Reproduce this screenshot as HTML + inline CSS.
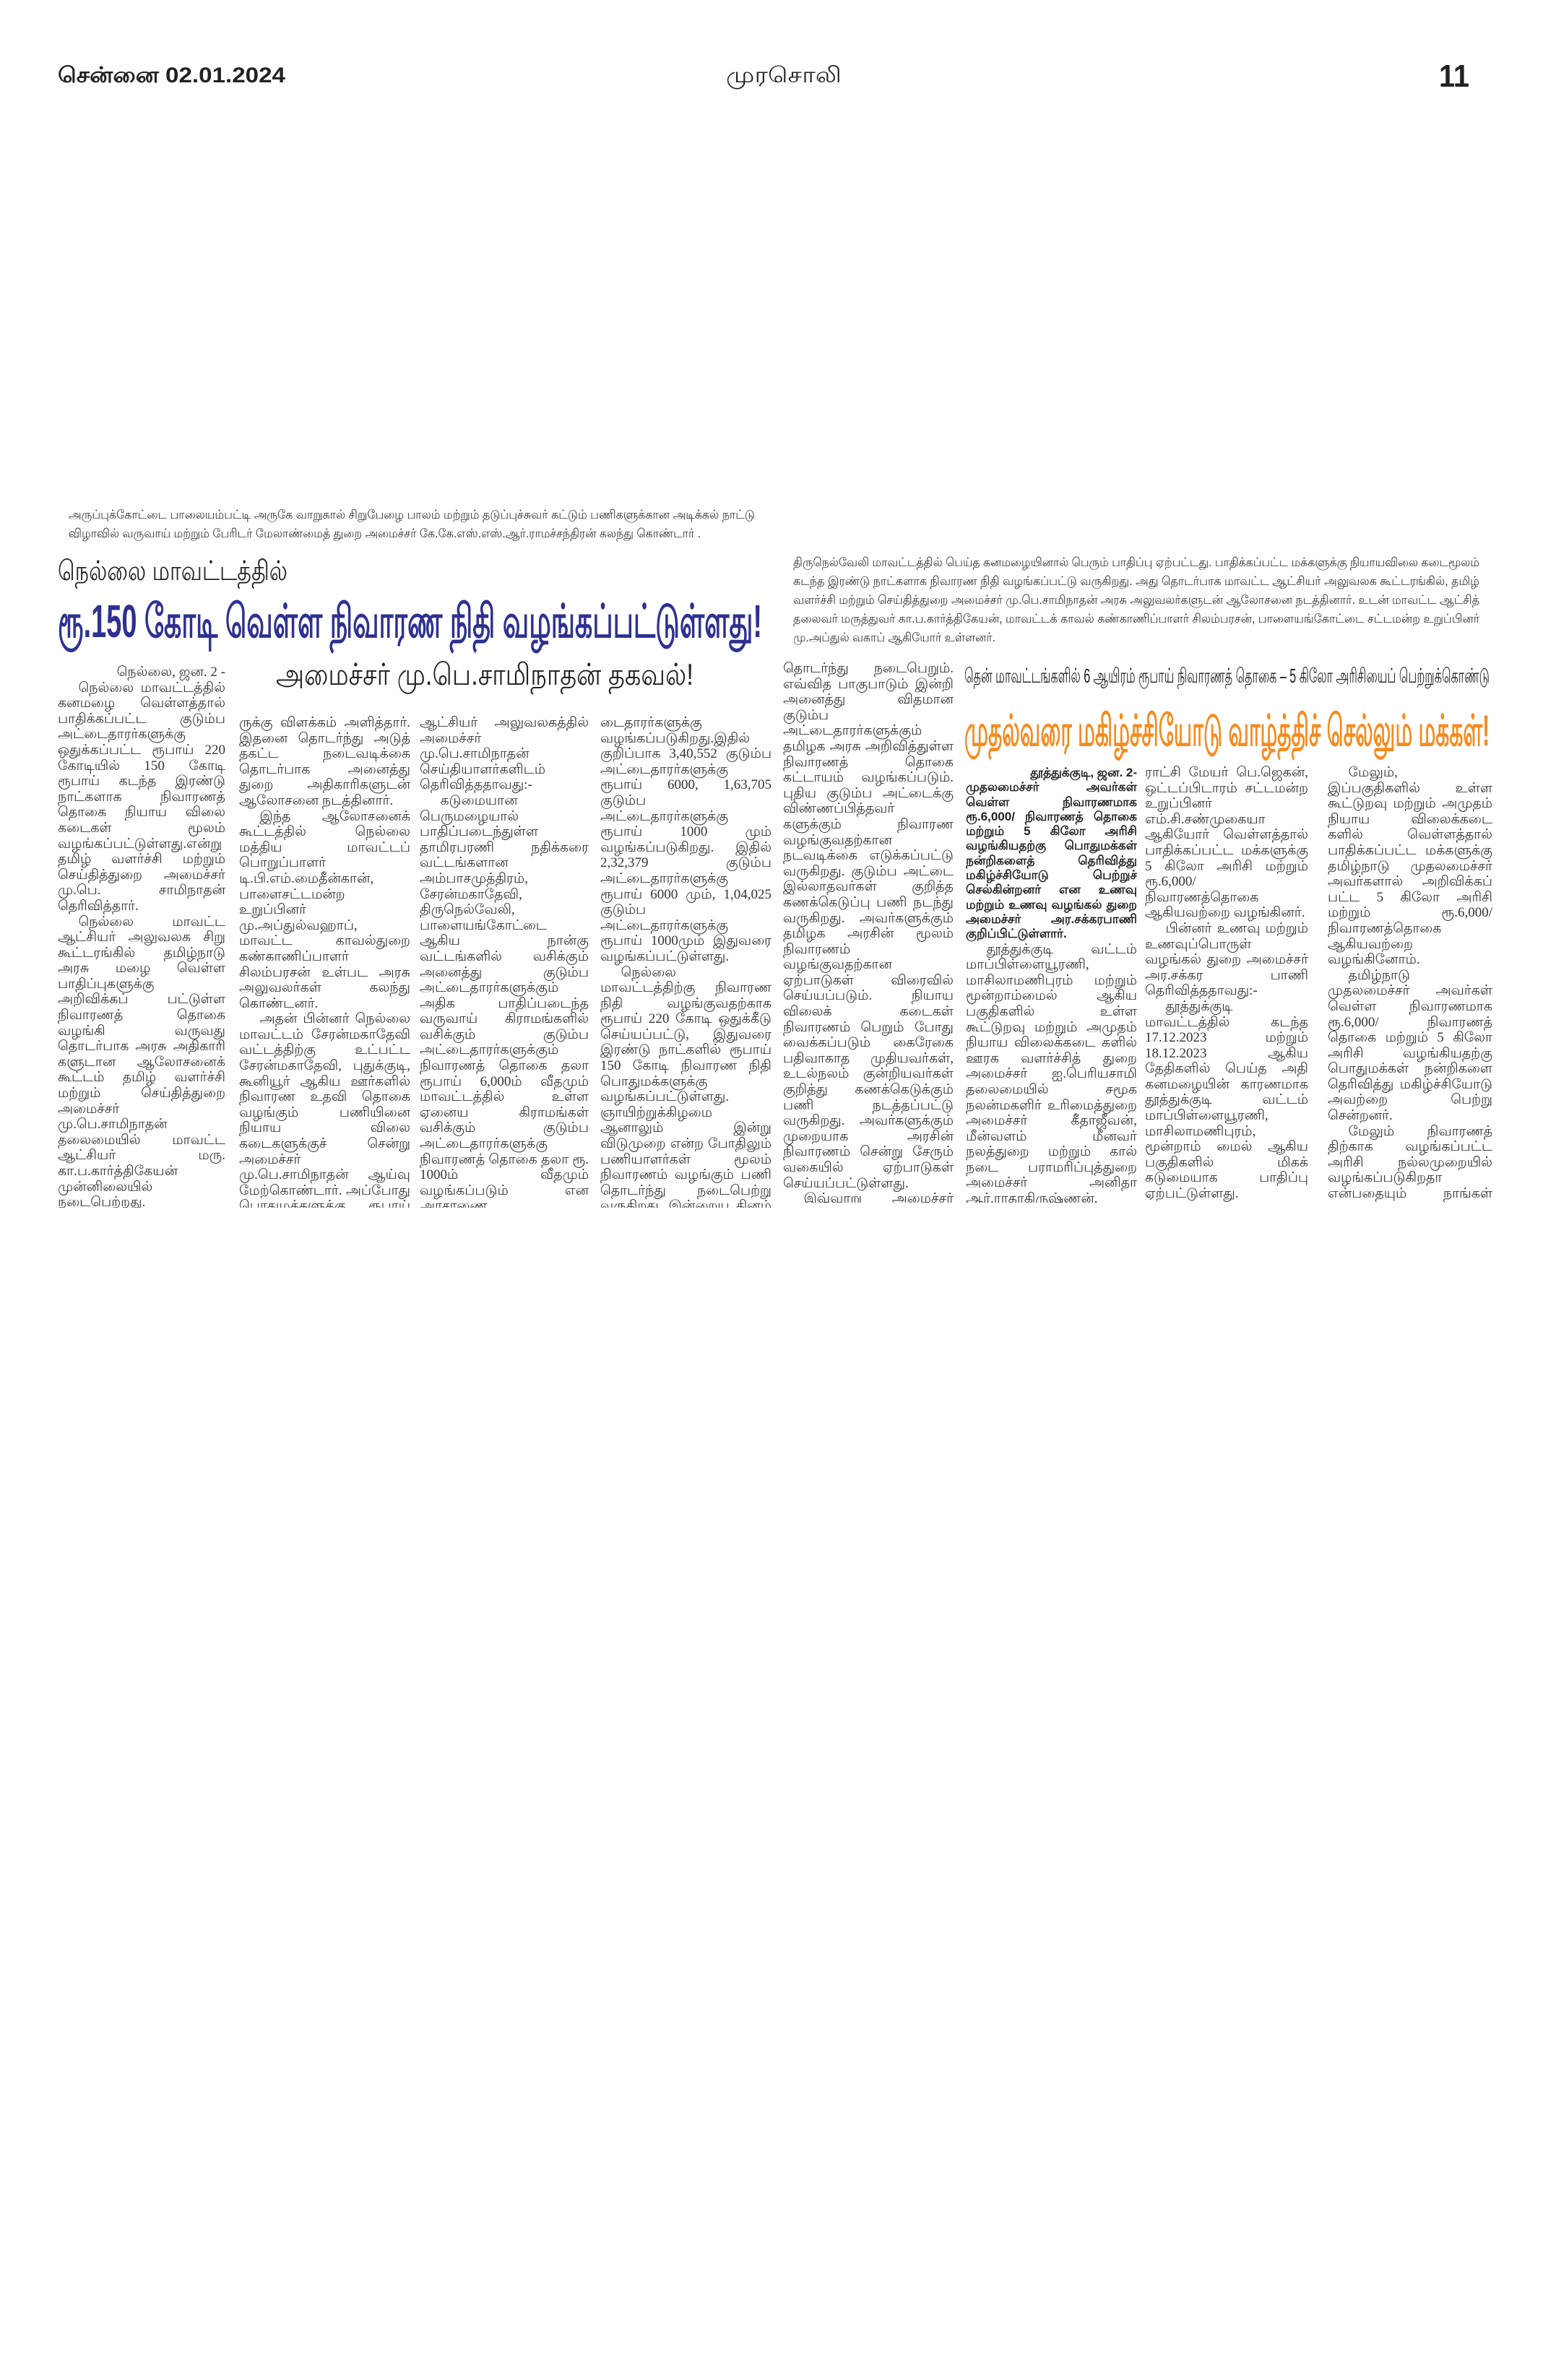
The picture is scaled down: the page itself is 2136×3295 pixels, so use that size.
<!DOCTYPE html>
<html><head><meta charset="utf-8">
<style>
body{margin:0;background:#fff;}
#p{position:relative;width:2136px;height:3295px;overflow:hidden;background:#fff;color:#222;font-family:"Liberation Sans","Noto Sans CJK JP",sans-serif;}
.col{position:absolute;font-family:"Liberation Serif","Noto Serif CJK SC",serif;font-size:19px;line-height:21.6px;text-align:justify;overflow:hidden;color:#333;}
.col p{margin:0;text-indent:1.5em;}
.b{font-family:"Liberation Sans",sans-serif;font-weight:bold;font-size:17px;line-height:20.3px;color:#222;}
svg{position:absolute;left:0;top:0;}
svg text{font-family:"Liberation Sans",sans-serif;}
</style></head><body><div id="p">

<svg width="2136" height="1100" viewBox="0 0 2136 1100">
<text x="80" y="114" font-size="30" font-weight="bold" fill="#222" textLength="315" lengthAdjust="spacingAndGlyphs">சென்னை 02.01.2024</text>
<text x="1005" y="114" font-size="30" fill="#222" textLength="160" lengthAdjust="spacingAndGlyphs">முரசொலி</text>
<text x="1992" y="120" font-size="44" font-weight="bold" fill="#222" textLength="42" lengthAdjust="spacingAndGlyphs">11</text>

<text x="95" y="718" font-size="17" fill="#333" textLength="950" lengthAdjust="spacingAndGlyphs">அருப்புக்கோட்டை பாலையம்பட்டி அருகே வாறுகால் சிறுபேழை பாலம் மற்றும் தடுப்புச்சுவர் கட்டும் பணிகளுக்கான அடிக்கல் நாட்டு</text>
<text x="95" y="744" font-size="17" fill="#333" textLength="875" lengthAdjust="spacingAndGlyphs">விழாவில் வருவாய் மற்றும் பேரிடர் மேலாண்மைத் துறை அமைச்சர் கே.கே.எஸ்.எஸ்.ஆர்.ராமச்சந்திரன் கலந்து கொண்டார் .</text>

<text x="80" y="803" font-size="38" fill="#222" textLength="318" lengthAdjust="spacingAndGlyphs">நெல்லை மாவட்டத்தில்</text>
<text x="80" y="882" font-size="64" font-weight="bold" fill="#2e3192" textLength="975" lengthAdjust="spacingAndGlyphs">ரூ.150 கோடி வெள்ள நிவாரண நிதி வழங்கப்பட்டுள்ளது!</text>
<text x="382" y="948" font-size="42" fill="#222" textLength="578" lengthAdjust="spacingAndGlyphs">அமைச்சர் மு.பெ.சாமிநாதன் தகவல்!</text>

<text x="1098" y="784" font-size="17" fill="#333" textLength="950" lengthAdjust="spacingAndGlyphs">திருநெல்வேலி மாவட்டத்தில் பெய்த கனமழையினால் பெரும் பாதிப்பு ஏற்பட்டது. பாதிக்கப்பட்ட மக்களுக்கு நியாயவிலை கடைமூலம்</text>
<text x="1098" y="810" font-size="17" fill="#333" textLength="950" lengthAdjust="spacingAndGlyphs">கடந்த இரண்டு நாட்களாக நிவாரண நிதி வழங்கப்பட்டு வருகிறது. அது தொடர்பாக மாவட்ட ஆட்சியர் அலுவலக கூட்டரங்கில், தமிழ்</text>
<text x="1098" y="836" font-size="17" fill="#333" textLength="950" lengthAdjust="spacingAndGlyphs">வளர்ச்சி மற்றும் செய்தித்துறை அமைச்சர் மு.பெ.சாமிநாதன் அரசு அலுவலர்களுடன் ஆலோசனை நடத்தினார். உடன் மாவட்ட ஆட்சித்</text>
<text x="1098" y="862" font-size="17" fill="#333" textLength="950" lengthAdjust="spacingAndGlyphs">தலைவர் மருத்துவர் கா.ப.கார்த்திகேயன், மாவட்டக் காவல் கண்காணிப்பாளர் சிலம்பரசன், பாளையங்கோட்டை சட்டமன்ற உறுப்பினர்</text>
<text x="1098" y="888" font-size="17" fill="#333" textLength="280" lengthAdjust="spacingAndGlyphs">மு.அப்துல் வகாப் ஆகியோர் உள்ளனர்.</text>

<text x="1335" y="945" font-size="28" fill="#222" textLength="727" lengthAdjust="spacingAndGlyphs">தென் மாவட்டங்களில் 6 ஆயிரம் ரூபாய் நிவாரணத் தொகை – 5 கிலோ அரிசியைப் பெற்றுக்கொண்டு</text>
<text x="1335" y="1032" font-size="60" font-weight="bold" fill="#f68b1f" textLength="727" lengthAdjust="spacingAndGlyphs">முதல்வரை மகிழ்ச்சியோடு வாழ்த்திச் செல்லும் மக்கள்!</text>
</svg>

<div class="col" style="left:80px;top:920px;width:232px;height:752px;"><div style="text-align:right">நெல்லை, ஜன. 2 -</div><p>நெல்லை மாவட்டத்தில் கனமழை வெள்ளத்தால் பாதிக்கப்பட்ட குடும்ப அட்டைதாரர்களுக்கு ஒதுக்கப்பட்ட ரூபாய் 220 கோடியில் 150 கோடி ரூபாய் கடந்த இரண்டு நாட்களாக நிவாரணத் தொகை நியாய விலை கடைகள் மூலம் வழங்கப்பட்டுள்ளது.என்று தமிழ் வளர்ச்சி மற்றும் செய்தித்துறை அமைச்சர் மு.பெ. சாமிநாதன் தெரிவித்தார்.</p><p>நெல்லை மாவட்ட ஆட்சியர் அலுவலக சிறு கூட்டரங்கில் தமிழ்நாடு அரசு மழை வெள்ள பாதிப்புகளுக்கு அறிவிக்கப் பட்டுள்ள நிவாரணத் தொகை வழங்கி வருவது தொடர்பாக அரசு அதிகாரி களுடான ஆலோசனைக் கூட்டம் தமிழ் வளர்ச்சி மற்றும் செய்தித்துறை அமைச்சர் மு.பெ.சாமிநாதன் தலைமையில் மாவட்ட ஆட்சியர் மரு. கா.ப.கார்த்திகேயன் முன்னிலையில் நடைபெற்றது.</p><p>இந்த கூட்டத்தில் மாவட்டத்தில் பொதுமக்களுக்கு வழங்கப்பட்டு வரும் நிவாரணத் தொகை தொடர்பாக மாவட்ட ஆட்சித்தலைவர் கார்த்திகேயன் அமைச்ச</p></div>

<div class="col" style="left:331px;top:990px;width:237px;height:682px;">ருக்கு விளக்கம் அளித்தார். இதனை தொடர்ந்து அடுத் தகட்ட நடைவடிக்கை தொடர்பாக அனைத்து துறை அதிகாரிகளுடன் ஆலோசனை நடத்தினார்.<p>இந்த ஆலோசனைக் கூட்டத்தில் நெல்லை மத்திய மாவட்டப் பொறுப்பாளர் டி.பி.எம்.மைதீன்கான், பாளைசட்டமன்ற உறுப்பினர் மு.அப்துல்வஹாப், மாவட்ட காவல்துறை கண்காணிப்பாளர் சிலம்பரசன் உள்பட அரசு அலுவலர்கள் கலந்து கொண்டனர்.</p><p>அதன் பின்னர் நெல்லை மாவட்டம் சேரன்மகாதேவி வட்டத்திற்கு உட்பட்ட சேரன்மகாதேவி, புதுக்குடி, கூனியூர் ஆகிய ஊர்களில் நிவாரண உதவி தொகை வழங்கும் பணியினை நியாய விலை கடைகளுக்குச் சென்று அமைச்சர் மு.பெ.சாமிநாதன் ஆய்வு மேற்கொண்டார். அப்போது பொதுமக்களுக்கு ரூபாய் 6000ம் மற்றும் 5 கிலோ அரிசி ஆகிய பொருட்களையும் வழங்கினார்.</p><p>முன்னதாக மாவட்ட</p></div>

<div class="col" style="left:581px;top:990px;width:234px;height:682px;">ஆட்சியர் அலுவலகத்தில் அமைச்சர் மு.பெ.சாமிநாதன் செய்தியாளர்களிடம் தெரிவித்ததாவது:-<p>கடுமையான பெருமழையால் பாதிப்படைந்துள்ள தாமிரபரணி நதிக்கரை வட்டங்களான அம்பாசமுத்திரம், சேரன்மகாதேவி, திருநெல்வேலி, பாளையங்கோட்டை ஆகிய நான்கு வட்டங்களில் வசிக்கும் அனைத்து குடும்ப அட்டைதாரர்களுக்கும் அதிக பாதிப்படைந்த வருவாய் கிராமங்களில் வசிக்கும் குடும்ப அட்டைதாரர்களுக்கும் நிவாரணத் தொகை தலா ரூபாய் 6,000ம் வீதமும் மாவட்டத்தில் உள்ள ஏனைய கிராமங்கள் வசிக்கும் குடும்ப அட்டைதாரர்களுக்கு நிவாரணத் தொகை தலா ரூ. 1000ம் வீதமும் வழங்கப்படும் என அரசாணை பிறப்பிக்கப்பட்டு நிவாரணத்தொகை வழங்கும் பணி தொடங்கி நடந்து வருகிறது.</p><p>நெல்லை மாவட்டத்தில் 840 நியாயவிலைக்கடைகள் மூலம் 5,04,357 குடும்ப அட்</p></div>

<div class="col" style="left:831px;top:990px;width:237px;height:682px;">டைதாரர்களுக்கு வழங்கப்படுகிறது.இதில் குறிப்பாக 3,40,552 குடும்ப அட்டைதாரர்களுக்கு ரூபாய் 6000, 1,63,705 குடும்ப அட்டைதாரர்களுக்கு ரூபாய் 1000 மும் வழங்கப்படுகிறது. இதில் 2,32,379 குடும்ப அட்டைதாரர்களுக்கு ரூபாய் 6000 மும், 1,04,025 குடும்ப அட்டைதாரர்களுக்கு ரூபாய் 1000மும் இதுவரை வழங்கப்பட்டுள்ளது.<p>நெல்லை மாவட்டத்திற்கு நிவாரண நிதி வழங்குவதற்காக ரூபாய் 220 கோடி ஒதுக்கீடு செய்யப்பட்டு, இதுவரை இரண்டு நாட்களில் ரூபாய் 150 கோடி நிவாரண நிதி பொதுமக்களுக்கு வழங்கப்பட்டுள்ளது. ஞாயிற்றுக்கிழமை ஆனாலும் இன்று விடுமுறை என்ற போதிலும் பணியாளர்கள் மூலம் நிவாரணம் வழங்கும் பணி தொடர்ந்து நடைபெற்று வருகிறது. இன்றைய தினம் புத்தாண்டு என்ற காரணத்தினால் விடுமுறை விடப்பட்டுள்ளது. நாளை (2ம் தேதி) முதல் நிவாரணம் வழங்கும் பணி</p></div>

<div class="col" style="left:1084px;top:915px;width:236px;height:750px;">தொடர்ந்து நடைபெறும். எவ்வித பாகுபாடும் இன்றி அனைத்து விதமான குடும்ப அட்டைதாரர்களுக்கும் தமிழக அரசு அறிவித்துள்ள நிவாரணத் தொகை கட்டாயம் வழங்கப்படும். புதிய குடும்ப அட்டைக்கு விண்ணப்பித்தவர் களுக்கும் நிவாரண வழங்குவதற்கான நடவடிக்கை எடுக்கப்பட்டு வருகிறது. குடும்ப அட்டை இல்லாதவர்கள் குறித்த கணக்கெடுப்பு பணி நடந்து வருகிறது. அவர்களுக்கும் தமிழக அரசின் மூலம் நிவாரணம் வழங்குவதற்கான ஏற்பாடுகள் விரைவில் செய்யப்படும். நியாய விலைக் கடைகள் நிவாரணம் பெறும் போது வைக்கப்படும் கைரேகை பதிவாகாத முதியவர்கள், உடல்நலம் குன்றியவர்கள் குறித்து கணக்கெடுக்கும் பணி நடத்தப்பட்டு வருகிறது. அவர்களுக்கும் முறையாக அரசின் நிவாரணம் சென்று சேரும் வகையில் ஏற்பாடுகள் செய்யப்பட்டுள்ளது.<p>இவ்வாறு அமைச்சர் மு.பெ.சாமிநாதன் தெரிவித்தார்.</p></div>

<div class="col" style="left:1337px;top:1060px;width:237px;height:605px;"><div class="b" style="text-align:right">தூத்துக்குடி, ஜன. 2-</div><div class="b" style="text-align:justify">முதலமைச்சர் அவர்கள் வெள்ள நிவாரணமாக ரூ.6,000/ நிவாரணத் தொகை மற்றும் 5 கிலோ அரிசி வழங்கியதற்கு பொதுமக்கள் நன்றிகளைத் தெரிவித்து மகிழ்ச்சியோடு பெற்றுச் செல்கின்றனர் என உணவு மற்றும் உணவு வழங்கல் துறை அமைச்சர் அர.சக்கரபாணி குறிப்பிட்டுள்ளார்.</div><p>தூத்துக்குடி வட்டம் மாப்பிள்ளையூரணி, மாசிலாமணிபுரம் மற்றும் மூன்றாம்மைல் ஆகிய பகுதிகளில் உள்ள கூட்டுறவு மற்றும் அமுதம் நியாய விலைக்கடை களில் ஊரக வளர்ச்சித் துறை அமைச்சர் ஐ.பெரியசாமி தலைமையில் சமூக நலன்மகளிர் உரிமைத்துறை அமைச்சர் கீதாஜீவன், மீன்வளம் மீனவர் நலத்துறை மற்றும் கால் நடை பராமரிப்புத்துறை அமைச்சர் அனிதா ஆர்.ராதாகிருஷ்ணன், உணவு மற்றும் உணவுப்பொருள் வழங்கல் துறை அமைச்சர்.அர.சக்கரபாணி, தூத்துக்குடி மாநக</p></div>

<div class="col" style="left:1585px;top:1059px;width:226px;height:606px;">ராட்சி மேயர் பெ.ஜெகன், ஒட்டப்பிடாரம் சட்டமன்ற உறுப்பினர் எம்.சி.சண்முகையா ஆகியோர் வெள்ளத்தால் பாதிக்கப்பட்ட மக்களுக்கு 5 கிலோ அரிசி மற்றும் ரூ.6,000/ நிவாரணத்தொகை ஆகியவற்றை வழங்கினர்.<p>பின்னர் உணவு மற்றும் உணவுப்பொருள் வழங்கல் துறை அமைச்சர் அர.சக்கர பாணி தெரிவித்ததாவது:-</p><p>தூத்துக்குடி மாவட்டத்தில் கடந்த 17.12.2023 மற்றும் 18.12.2023 ஆகிய தேதிகளில் பெய்த அதி கனமழையின் காரணமாக தூத்துக்குடி வட்டம் மாப்பிள்ளையூரணி, மாசிலாமணிபுரம், மூன்றாம் மைல் ஆகிய பகுதிகளில் மிகக் கடுமையாக பாதிப்பு ஏற்பட்டுள்ளது. இப்பகுதிகளில் மாண்புமிகு அமைச்சர் பெருமக்களாகிய நாங்கள் நேரில் சென்று ஆய்வு மேற்கொண்டு பொது மக்களிடம் குறைகளை கேட்டறிந்தோம்.</p></div>

<div class="col" style="left:1838px;top:1059px;width:228px;height:606px;"><p>மேலும், இப்பகுதிகளில் உள்ள கூட்டுறவு மற்றும் அமுதம் நியாய விலைக்கடை களில் வெள்ளத்தால் பாதிக்கப்பட்ட மக்களுக்கு தமிழ்நாடு முதலமைச்சர் அவர்களால் அறிவிக்கப் பட்ட 5 கிலோ அரிசி மற்றும் ரூ.6,000/ நிவாரணத்தொகை ஆகியவற்றை வழங்கினோம்.</p><p>தமிழ்நாடு முதலமைச்சர் அவர்கள் வெள்ள நிவாரணமாக ரூ.6,000/ நிவாரணத் தொகை மற்றும் 5 கிலோ அரிசி வழங்கியதற்கு பொதுமக்கள் நன்றிகளை தெரிவித்து மகிழ்ச்சியோடு அவற்றை பெற்று சென்றனர்.</p><p>மேலும் நிவாரணத் திற்காக வழங்கப்பட்ட அரிசி நல்லமுறையில் வழங்கப்படுகிறதா என்பதையும் நாங்கள் ஆய்வு செய்தோம் என உணவு மற்றும் உணவுப்பொருள் வழங்கல் துறை அமைச்சர் அர.சக்கரபாணி தெரிவித்தார்.</p></div>

</div></body></html>
